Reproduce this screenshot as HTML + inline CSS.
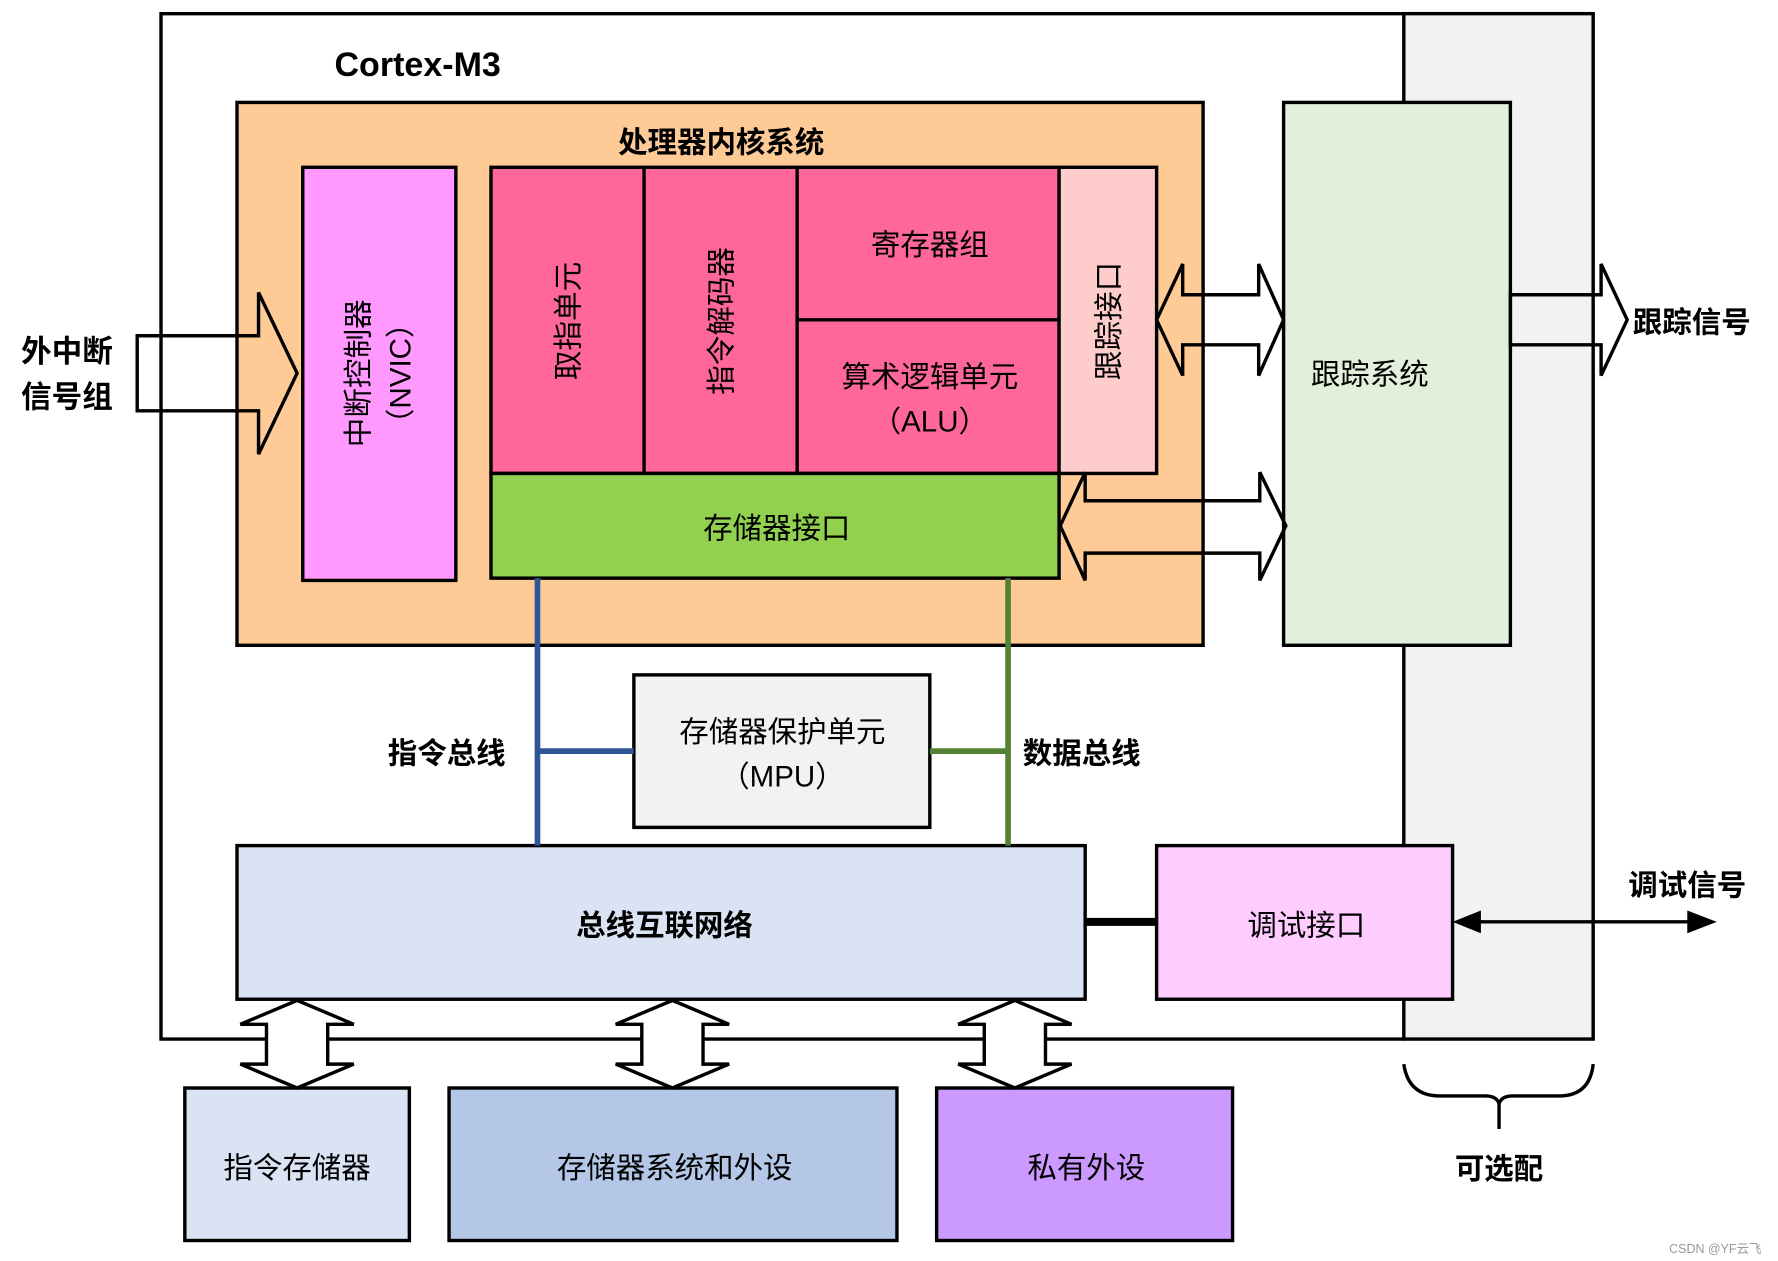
<!DOCTYPE html>
<html><head><meta charset="utf-8"><style>
html,body{margin:0;padding:0;background:#fff;}
svg{display:block;}
text{font-family:"Liberation Sans","Noto Sans CJK SC",sans-serif;fill:#000;}
</style></head><body>
<svg width="1778" height="1261" viewBox="0 0 1568 1108" preserveAspectRatio="none" xmlns="http://www.w3.org/2000/svg">
<g stroke="#000" stroke-width="3">
<rect x="1238" y="12" width="167" height="901" fill="#f2f2f2"/>
<polyline points="1238,12 142,12 142,913 1238,913" fill="none"/>
<rect x="209" y="90" width="852" height="477" fill="#fecb97"/>
<rect x="267" y="147" width="135" height="363" fill="#ff99ff"/>
<rect x="433" y="147" width="501" height="269" fill="#ff6699"/>
<line x1="568" y1="147" x2="568" y2="416"/>
<line x1="703" y1="147" x2="703" y2="416"/>
<line x1="703" y1="281" x2="934" y2="281"/>
<rect x="934" y="147" width="86" height="269" fill="#ffcccc"/>
<rect x="433" y="416" width="501" height="92" fill="#92d050"/>
<rect x="1132" y="90" width="200" height="477" fill="#e2efda"/>
<rect x="559" y="593" width="261" height="134" fill="#f2f2f2"/>
<rect x="209" y="743" width="748" height="135" fill="#dae3f3"/>
<rect x="1020" y="743" width="261" height="135" fill="#ffccff"/>
<rect x="163" y="956" width="198" height="134" fill="#dae3f3"/>
<rect x="396" y="956" width="395" height="134" fill="#b4c7e7"/>
<rect x="826" y="956" width="261" height="134" fill="#cc99ff"/>
<!-- arrows -->
<polygon fill="none" points="121,295 228,295 228,257 262,328 228,399 228,361 121,361"/>
<polygon fill="none" points="1332,259 1412,259 1412,232 1435,281 1412,330 1412,303 1332,303"/>
<polygon fill="none" points="1020,281 1043,232 1043,259 1110,259 1110,232 1132,281 1110,330 1110,303 1043,303 1043,330"/>
<polygon fill="none" points="935,462 957,415 957,440 1111,440 1111,415 1134,462 1111,510 1111,486 957,486 957,510"/>
<polygon fill="#fff" points="262,879 312,900 289,900 289,935 312,935 262,956 212,935 235,935 235,900 212,900"/>
<polygon fill="#fff" points="593,879 643,900 620,900 620,935 643,935 593,956 543,935 566,935 566,900 543,900"/>
<polygon fill="#fff" points="895,879 945,900 922,900 922,935 945,935 895,956 845,935 868,935 868,900 845,900"/>
<path d="M1238,935 Q1242,963 1270,963 L1310,963 Q1320,963 1322,970 L1322,992 M1322,970 Q1324,963 1334,963 L1375,963 Q1402,963 1405,935" fill="none"/>
<line x1="1295" y1="810" x2="1500" y2="810"/>
</g>
<line x1="474" y1="508" x2="474" y2="743" stroke="#2f5597" stroke-width="5"/>
<line x1="474" y1="660" x2="559" y2="660" stroke="#2f5597" stroke-width="5"/>
<line x1="889" y1="508" x2="889" y2="743" stroke="#548235" stroke-width="5"/>
<line x1="820" y1="660" x2="889" y2="660" stroke="#548235" stroke-width="5"/>
<line x1="957" y1="810" x2="1020" y2="810" stroke="#000" stroke-width="7"/>
<polygon points="1281,810 1306,800 1306,820"/>
<polygon points="1514,810 1488,800 1488,820"/>

<text x="295" y="67" font-size="30" font-weight="bold">Cortex-M3</text>
<text x="636" y="134" font-size="26" font-weight="bold" text-anchor="middle">处理器内核系统</text>
<text x="59" y="318" font-size="27" font-weight="bold" text-anchor="middle">外中断</text>
<text x="59" y="358" font-size="27" font-weight="bold" text-anchor="middle">信号组</text>
<g font-size="26" text-anchor="middle">
<text transform="translate(325,328) rotate(-90)">中断控制器</text>
<text transform="translate(362,328) rotate(-90)">（NVIC）</text>
<text transform="translate(510,282) rotate(-90)">取指单元</text>
<text transform="translate(645,282) rotate(-90)">指令解码器</text>
<text transform="translate(987,282) rotate(-90)">跟踪接口</text>
<text x="820" y="224">寄存器组</text>
<text x="820" y="340">算术逻辑单元</text>
<text x="820" y="379">（ALU）</text>
<text x="685" y="473">存储器接口</text>
<text x="1208" y="338">跟踪系统</text>
<text x="690" y="652">存储器保护单元</text>
<text x="690" y="691">（MPU）</text>
<text x="1152" y="822">调试接口</text>
<text x="262" y="1035">指令存储器</text>
<text x="595" y="1035">存储器系统和外设</text>
<text x="958" y="1035">私有外设</text>
</g>
<g font-size="26" font-weight="bold">
<text x="1440" y="292">跟踪信号</text>
<text x="1436" y="787">调试信号</text>
<text x="342" y="671">指令总线</text>
<text x="902" y="671">数据总线</text>
<text x="586" y="822" text-anchor="middle">总线互联网络</text>
<text x="1322" y="1036" text-anchor="middle">可选配</text>
</g>
<text x="1472" y="1101" font-size="11" fill="#999" style="fill:#999">CSDN @YF云飞</text>
</svg>
</body></html>
